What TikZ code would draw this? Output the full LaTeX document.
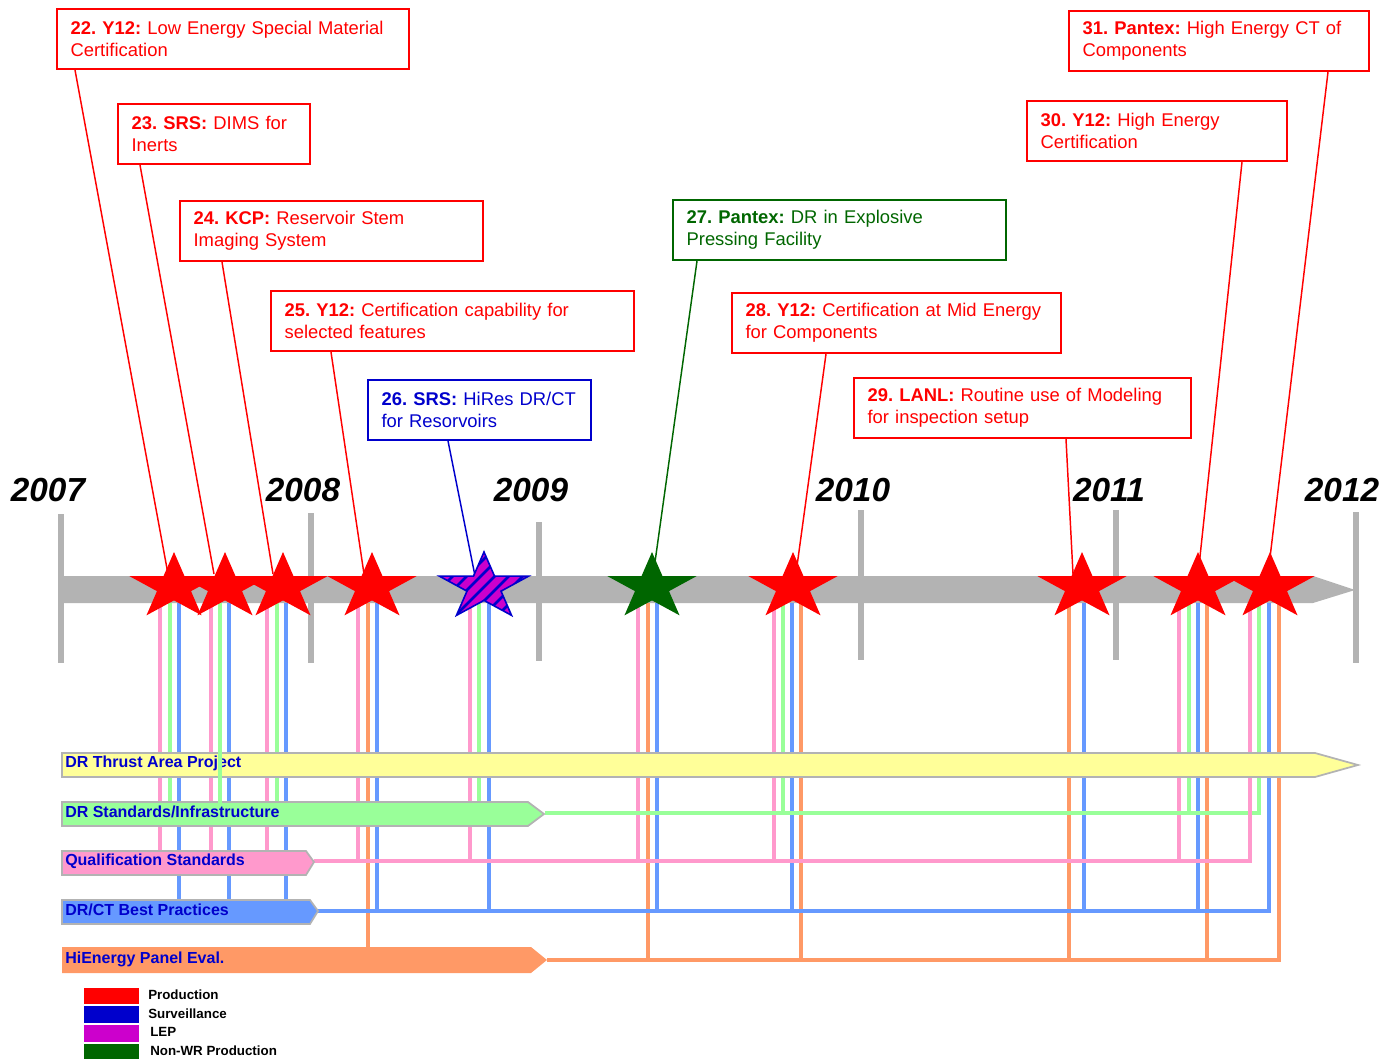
\documentclass[tikz,border=0pt]{standalone}
\usepackage{fontspec}
\setmainfont{Liberation Sans}
\usetikzlibrary{calc}
\definecolor{cpink}{HTML}{FF99CC}
\definecolor{cgreen}{HTML}{99FF99}
\definecolor{cblue}{HTML}{6699FF}
\definecolor{corange}{HTML}{FF9966}
\definecolor{cyellow}{HTML}{FFFF99}
\definecolor{cgray}{HTML}{B3B3B3}
\definecolor{cdblue}{HTML}{0000CC}
\definecolor{cdgreen}{HTML}{006600}
\definecolor{cmag}{HTML}{CC00CC}
\frenchspacing
\newcommand{\fivestarpath}{(-90:46.8 and 35) -- (-54:17.9 and 13.4) -- (-18:46.8 and 35) -- (18:17.9 and 13.4) -- (54:46.8 and 35) -- (90:17.9 and 13.4) -- (126:46.8 and 35) -- (162:17.9 and 13.4) -- (198:46.8 and 35) -- (234:17.9 and 13.4) -- cycle}
\newcommand{\boxlines}[3]{\mbox{\textbf{#1} #2}\\\mbox{#3}}
\tikzset{
  pics/starfive/.style={code={\path[pic actions] \fivestarpath;}},
  infobox/.style={draw=#1, text=#1, line width=1.5pt, anchor=north west, align=left,
    inner xsep=10.2pt, inner ysep=0pt, minimum height=45pt,
    font=\fontsize{13.8}{16.5}\selectfont},
  conn/.style={draw=#1, line width=1.1pt},
  yearlbl/.style={font=\fontsize{25}{30}\selectfont\bfseries\itshape, inner sep=0pt},
  barlbl/.style={anchor=west, text=cdblue, font=\fontsize{12}{14}\selectfont\bfseries, inner sep=0pt},
  barshape/.style={fill=#1, draw=cgray, line width=1.3pt},
  vline/.style={draw=#1, line width=2.3pt},
  tick/.style={draw=cgray, line width=4.5pt},
  leglbl/.style={anchor=west, font=\fontsize{10}{12}\selectfont\bfseries, inner sep=0pt},
}
\begin{document}
\begin{tikzpicture}[x=0.75pt,y=-0.75pt]
\useasboundingbox (0,0) rectangle (1385,1059);

% year labels
\node[yearlbl] (y2007) at (48,490) {2007};
\node[yearlbl] (y2008) at (303,490) {2008};
\node[yearlbl] (y2009) at (531,490) {2009};
\node[yearlbl] (y2010) at (853,490) {2010};
\node[yearlbl] (y2011) at (1109,490) {2011};
\node[yearlbl] (y2012) at (1342,490) {2012};

% timeline bar
\fill[cgray] (60,576) -- (1313,576) -- (1355,590) -- (1313,603) -- (60,603) -- cycle;
\foreach \x/\t/\b in {61/514/663, 311/513/663, 539/522/661, 861/510/660, 1116/510/660, 1356/512/663}
  \draw[tick] (\x,\t) -- (\x,\b);

% vertical connection lines
\foreach \x in {160,211,267} \draw[vline=cpink] (\x,603) -- (\x,862);
\foreach \x in {358,470,638,774,1179} \draw[vline=cpink] (\x,603) -- (\x,861);
\foreach \x in {170,277,479} \draw[vline=cgreen] (\x,603) -- (\x,814);
\foreach \x in {783,1189} \draw[vline=cgreen] (\x,603) -- (\x,813);
\foreach \x in {179,229,286,377,489,657,792,1084,1198} \draw[vline=cblue] (\x,603) -- (\x,911);
\foreach \x in {368,648,801,1069,1207} \draw[vline=corange] (\x,603) -- (\x,960);
\draw[vline=cgreen] (545,813) -- (1259,813) -- (1259,603);
\draw[vline=cpink] (314,861) -- (1250,861) -- (1250,603);
\draw[vline=cblue] (318,911) -- (1269,911) -- (1269,603);
\draw[vline=corange] (547,960) -- (1279,960) -- (1279,603);

% category bars
\path[barshape=cyellow] (62,753) -- (1315,753) -- (1358,765) -- (1315,777) -- (62,777) -- cycle;
\path[barshape=cgreen] (62,802) -- (528,802) -- (544,814) -- (528,826) -- (62,826) -- cycle;
\path[barshape=cpink] (62,851) -- (306,851) -- (314,862) -- (306,875) -- (62,875) -- cycle;
\path[barshape=cblue] (62,900) -- (310,900) -- (318,911) -- (310,924) -- (62,924) -- cycle;
\fill[corange] (62,947) -- (531,947) -- (547,960) -- (531,973) -- (62,973) -- cycle;
\node[barlbl] (lthrust) at (65,763) {DR Thrust Area Project};
\node[barlbl] (lstd) at (65,812) {DR Standards/Infrastructure};
\node[barlbl] (lqual) at (65,861) {Qualification Standards};
\node[barlbl] (lbest) at (65,910) {DR/CT Best Practices};
\node[barlbl] (lhien) at (65,959) {HiEnergy Panel Eval.};
\draw[vline=cgreen] (220,603) -- (220,803);

% info boxes
\node[infobox=red, text width=243.6pt] (b22) at (56,8) {\boxlines{22. Y12:}{Low Energy Special Material}{Certification}};
\node[infobox=red, text width=123.6pt] (b23) at (117,103) {\boxlines{23. SRS:}{DIMS for}{Inerts}};
\node[infobox=red, text width=206.85pt] (b24) at (179,200) {\boxlines{24. KCP:}{Reservoir Stem}{Imaging System}};
\node[infobox=red, text width=251.85pt] (b25) at (270,290) {\boxlines{25. Y12:}{Certification capability for}{selected features}};
\node[infobox=cdblue, text width=146.85pt] (b26) at (367,379) {\boxlines{26. SRS:}{HiRes DR/CT}{for Resorvoirs}};
\node[infobox=cdgreen, text width=229.35pt] (b27) at (672,199) {\boxlines{27. Pantex:}{DR in Explosive}{Pressing Facility}};
\node[infobox=red, text width=226.35pt] (b28) at (731,292) {\boxlines{28. Y12:}{Certification at Mid Energy}{for Components}};
\node[infobox=red, text width=232.35pt] (b29) at (853,377) {\boxlines{29. LANL:}{Routine use of Modeling}{for inspection setup}};
\node[infobox=red, text width=174.6pt] (b30) at (1026,100) {\boxlines{30. Y12:}{High Energy}{Certification}};
\node[infobox=red, text width=204.6pt] (b31) at (1068,10) {\boxlines{31. Pantex:}{High Energy CT of}{Components}};

% star positions and connector ends
\foreach \n/\x in {22/174,23/225,24/283,25/372,26/484,27/652,28/793,29/1082,30/1198,31/1270}
  \coordinate (s\n) at (\x,587);
\coordinate (e22) at (168,574);
\coordinate (e23) at (214,574);
\coordinate (e24) at (273,574);
\coordinate (e25) at (364,574);
\coordinate (e26) at (475,576);
\coordinate (e27) at (655,562);
\coordinate (e28) at (797,566);
\coordinate (e29) at (1073,574);
\coordinate (e30) at (1199,566);
\coordinate (e31) at (1269,566);

\draw[conn=red] ($(b22.south west)+(19,0)$) -- (e22);
\draw[conn=red] ($(b23.south west)+(23,0)$) -- (e23);
\draw[conn=red] ($(b24.south west)+(43,0)$) -- (e24);
\draw[conn=red] ($(b25.south west)+(61,0)$) -- (e25);
\draw[conn=cdblue] ($(b26.south west)+(81,0)$) -- (e26);
\draw[conn=cdgreen] ($(b27.south west)+(25,0)$) -- (e27);
\draw[conn=red] ($(b28.south west)+(95,0)$) -- (e28);
\draw[conn=red] ($(b29.south west)+(213,0)$) -- (e29);
\draw[conn=red] ($(b30.south west)+(216,0)$) -- (e30);
\draw[conn=red] ($(b31.south west)+(260,0)$) -- (e31);

% stars
\foreach \n in {22,23,24,25,28,29,30,31} \pic[fill=red] at (s\n) {starfive};
\pic[fill=cdgreen] at (s27) {starfive};
\begin{scope}[shift={(s26)}]
  \fill[cmag] \fivestarpath;
  \begin{scope}
    \clip \fivestarpath;
    \foreach \d in {-84,-70,...,84} \draw[cdblue, line width=2pt] (\d-50,50) -- (\d+50,-50);
  \end{scope}
  \draw[cdblue, line width=1.2pt, line join=miter] \fivestarpath;
\end{scope}

% legend
\fill[red] (84,988) rectangle (139,1004);
\fill[cdblue] (84,1006) rectangle (139,1023);
\fill[cmag] (84,1025) rectangle (139,1042);
\fill[cdgreen] (84,1044) rectangle (139,1061);
\node[leglbl] (lgp) at (148,995) {Production};
\node[leglbl] (lgs) at (148,1014) {Surveillance};
\node[leglbl] (lgl) at (150,1032) {LEP};
\node[leglbl] (lgn) at (150,1051) {Non-WR Production};
\end{tikzpicture}
\end{document}
